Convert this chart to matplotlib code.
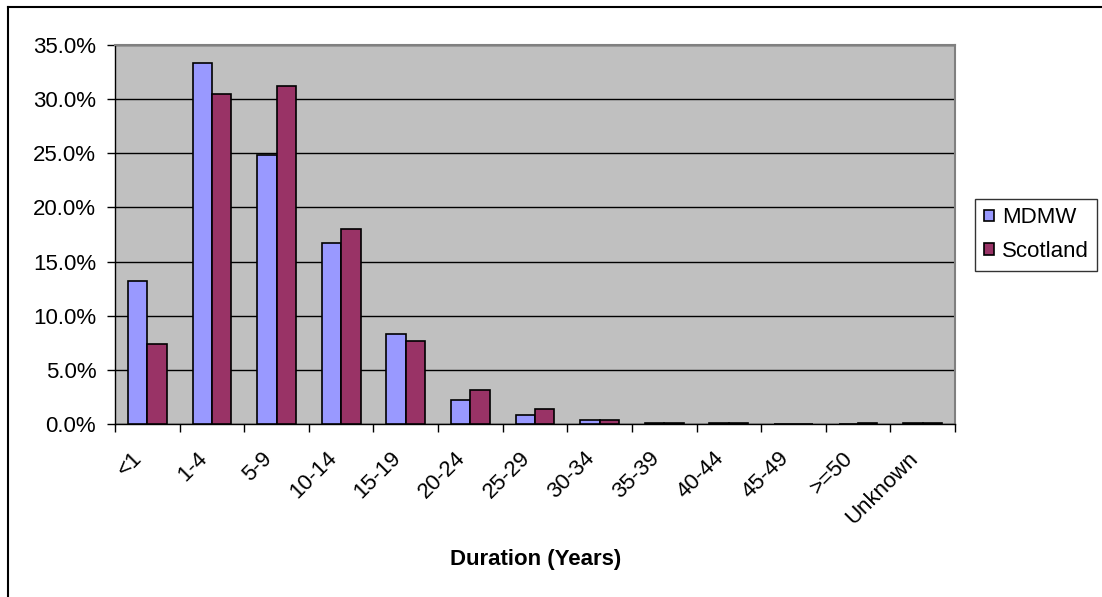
import numpy as np
import matplotlib
matplotlib.use('Agg')
import matplotlib.pyplot as plt
from matplotlib.lines import Line2D
from matplotlib.ticker import FuncFormatter, MultipleLocator

plt.rcParams['font.family'] = ['Liberation Sans', 'DejaVu Sans']

# Duration categories and share of cases (%)
categories = ['<1', '1-4', '5-9', '10-14', '15-19', '20-24', '25-29',
              '30-34', '35-39', '40-44', '45-49', '>=50', 'Unknown']
mdmw = [13.2, 33.3, 24.8, 16.7, 8.3, 2.2, 0.8, 0.35, 0.1, 0.1, 0.0, 0.0, 0.1]
scotland = [7.35, 30.5, 31.2, 18.0, 7.65, 3.15, 1.35, 0.35, 0.1, 0.1, 0.0, 0.1, 0.1]

W, H = 1102, 597
FS = 16
fig = plt.figure(figsize=(W / 100, H / 100), dpi=100)

# chart border (Excel-like chart area frame)
fig.add_artist(Line2D([8 / W, 8 / W], [0, 1 - 6.5 / H], color='black', lw=1.5))
fig.add_artist(Line2D([8 / W, 1], [1 - 6.5 / H, 1 - 6.5 / H], color='black', lw=1.5))

ax = fig.add_axes([115 / W, 1 - 424 / H, 840 / W, 379 / H])
ax.set_facecolor('#C0C0C0')

x = np.arange(len(categories))
bw = 0.3
ax.bar(x - bw / 2, mdmw, bw, color='#9999FF', edgecolor='black', lw=1.2,
       label='MDMW', zorder=3)
ax.bar(x + bw / 2, scotland, bw, color='#993366', edgecolor='black', lw=1.2,
       label='Scotland', zorder=3)

ax.set_xlim(-0.5, len(categories) - 0.5)
ax.set_ylim(0, 35)
ax.yaxis.set_major_locator(MultipleLocator(5))
ax.yaxis.set_major_formatter(FuncFormatter(lambda v, p: f'{v:.1f}%'))
ax.grid(axis='y', color='black', lw=1, zorder=1)

ax.set_xticks(np.append(x - 0.5, len(categories) - 0.5))
ax.set_xticklabels([])
ax.tick_params(axis='x', direction='out', length=5.5, width=1, color='black')
ax.tick_params(axis='y', direction='out', length=5.5, width=1, labelsize=FS,
               pad=8)
for xi, lab in zip(x, categories):
    ax.annotate(lab, (xi, 0), xycoords=('data', 'axes fraction'),
                xytext=(-11, -17), textcoords='offset points',
                rotation=45, ha='right', va='top', rotation_mode='anchor',
                fontsize=FS)

for side in ['top', 'right']:
    ax.spines[side].set_color('#808080')
    ax.spines[side].set_linewidth(1.5)
for side in ['left', 'bottom']:
    ax.spines[side].set_color('black')
    ax.spines[side].set_linewidth(1)

fig.text(536 / W, 1 - 559 / H, 'Duration (Years)', ha='center', va='center',
         fontsize=FS, fontweight='bold')

leg = ax.legend(loc='center left', bbox_to_anchor=(975 / W, 1 - 234.5 / H),
                bbox_transform=fig.transFigure, fontsize=FS, frameon=True,
                fancybox=False, edgecolor='black', handlelength=0.45,
                handleheight=0.45, handletextpad=0.35, borderpad=0.4,
                labelspacing=0.55, borderaxespad=0)
leg.get_frame().set_linewidth(1)

fig.savefig('out.png', dpi=100)
